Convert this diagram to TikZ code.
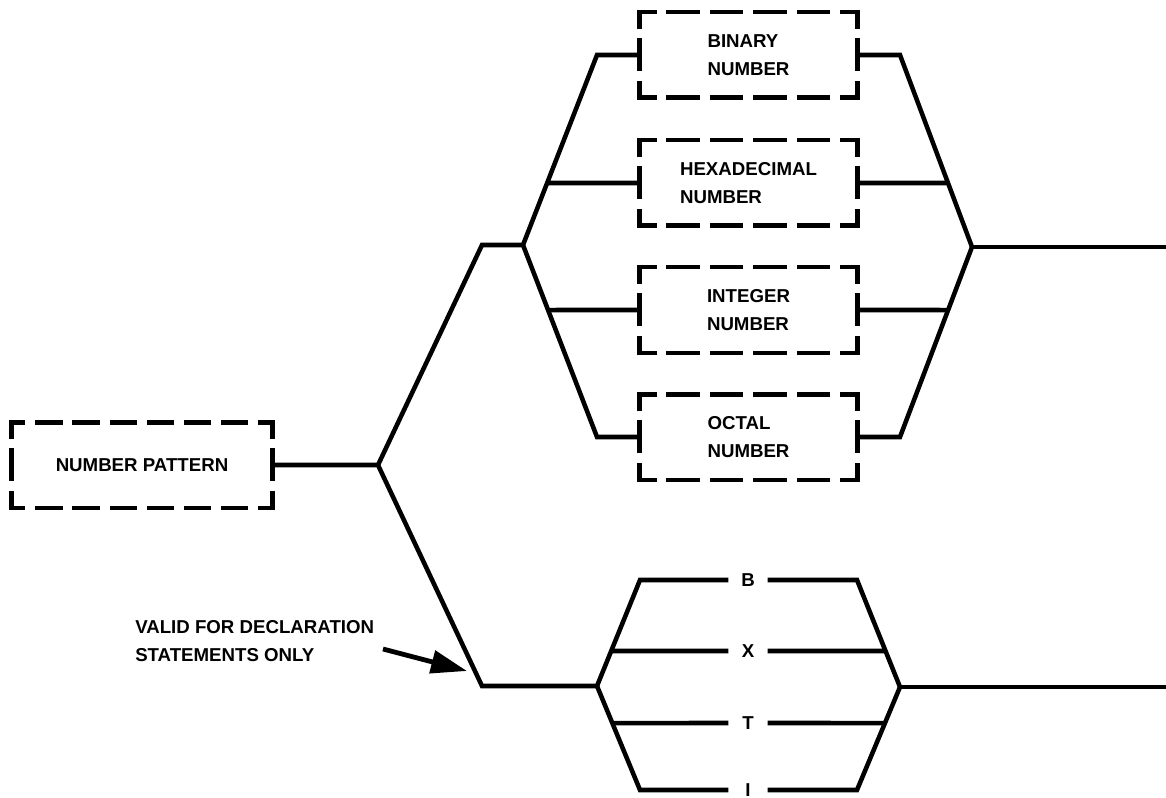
\documentclass[tikz,border=0pt]{standalone}
\usepackage{fontspec}
\setmainfont{Liberation Sans}
\usetikzlibrary{arrows.meta}

% one dashed side of a box: corners get half dashes so they join as L pieces
\def\dsgap{10.8}
\newcommand\dside[4]{%
  \pgfmathsetmacro\dsper{#3*0.75/#4}%
  \pgfmathsetmacro\dson{\dsper-\dsgap}%
  \pgfmathsetmacro\dsph{\dson/2}%
  \draw[boxline, dash pattern=on \dson pt off \dsgap pt, dash phase=\dsph pt] #1 -- #2;}
\newcommand\dashedframe[3]{% node, periods across, periods down
  \dside{(#1.north west)}{(#1.north east)}{#2}{#3}%
  \dside{(#1.south west)}{(#1.south east)}{#2}{#3}%
  \dside{(#1.north west)}{(#1.south west)}{85}{2}%
  \dside{(#1.north east)}{(#1.south east)}{85}{2}}

\begin{document}
\begin{tikzpicture}[x=0.75pt,y=-0.75pt,
  wire/.style={line width=3.4pt, line join=miter},
  boxline/.style={line width=3.4pt, line cap=rect},
  lbl/.style={font=\bfseries\fontsize{14}{21}\selectfont, align=left, inner sep=0pt},
  box/.style={lbl, minimum width=#1, minimum height=63.75pt},
  letter/.style={font=\bfseries\fontsize{14}{21}\selectfont, minimum width=29pt, inner sep=0pt},
]
\useasboundingbox (0,0) rectangle (1166,798);

% boxes
\node[box=195pt]    (np)  at (142,465)   {NUMBER PATTERN};
\node[box=162.75pt] (bin) at (748.5,55)  {BINARY\\NUMBER};
\node[box=162.75pt] (hex) at (748.5,183) {HEXADECIMAL\\NUMBER};
\node[box=162.75pt] (int) at (748.5,310) {INTEGER\\NUMBER};
\node[box=162.75pt] (oct) at (748.5,437) {OCTAL\\NUMBER};

\dashedframe{np}{260}{7}
\foreach \b in {bin,hex,int,oct} {\dashedframe{\b}{217}{5}}

% upper alternatives
\coordinate (j0)   at (378,465);
\coordinate (ua)   at (482,245);
\coordinate (j1)   at (523,245);
\coordinate (tl)   at (597,55);
\coordinate (bl)   at (597,437);
\coordinate (tr)   at (900,55);
\coordinate (jr)   at (972,247);
\coordinate (br)   at (900,437);
\coordinate (outU) at (1166,247);

\draw[wire] (np.east) -- (j0) -- (ua) -- (j1);
\draw[wire] (j1) -- (tl) -- (bin.west);
\draw[wire] (j1) -- (bl) -- (oct.west);
\draw[wire] (intersection of j1--tl and hex.west--hex.east) -- (hex.west);
\draw[wire] (intersection of j1--bl and int.west--int.east) -- (int.west);
\draw[wire] (bin.east) -- (tr) -- (jr);
\draw[wire] (oct.east) -- (br) -- (jr);
\draw[wire] (hex.east) -- (intersection of tr--jr and hex.west--hex.east);
\draw[wire] (int.east) -- (intersection of br--jr and int.west--int.east);
\draw[wire] (jr) -- (outU);

% lower alternatives
\node[letter] (lB) at (748,580) {B};
\node[letter] (lX) at (748,651) {X};
\node[letter] (lT) at (748,723) {T};
\node[letter] (lI) at (748,790) {I};

\coordinate (lb)   at (482,686);
\coordinate (j3)   at (597,686);
\coordinate (lbt)  at (640,580);
\coordinate (lbb)  at (640,790);
\coordinate (rbt)  at (857,580);
\coordinate (rbb)  at (857,790);
\coordinate (j4)   at (900,687);
\coordinate (outL) at (1166,687);

\draw[wire] (j0) -- (lb) -- (j3);
\draw[wire] (j3) -- (lbt) -- (lB.west);
\draw[wire] (j3) -- (lbb) -- (lI.west);
\draw[wire] (lB.east) -- (rbt) -- (j4);
\draw[wire] (lI.east) -- (rbb) -- (j4);
\draw[wire] (intersection of j3--lbt and lX.west--lX.east) -- (lX.west);
\draw[wire] (intersection of j3--lbb and lT.west--lT.east) -- (lT.west);
\draw[wire] (lX.east) -- (intersection of rbt--j4 and lX.west--lX.east);
\draw[wire] (lT.east) -- (intersection of rbb--j4 and lT.west--lT.east);
\draw[wire] (j4) -- (outL);

% note with arrow
\node[lbl, anchor=west] (note) at (135,641) {VALID FOR DECLARATION\\STATEMENTS ONLY};
\coordinate (tail) at (383,649);
\coordinate (tip)  at (467,671);
\draw[line width=3.6pt, -{Triangle[length=27pt,width=17pt]}] (tail) -- (tip);
\end{tikzpicture}
\end{document}
